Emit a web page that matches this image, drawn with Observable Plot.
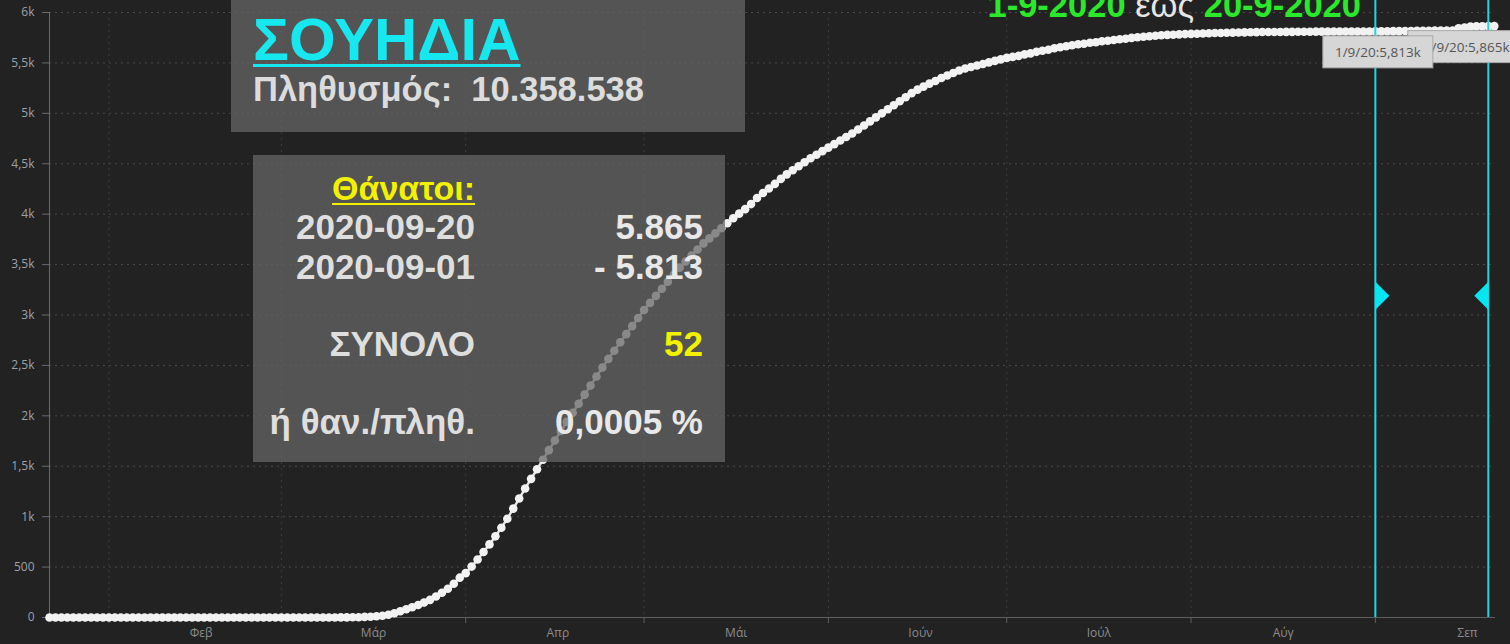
<!DOCTYPE html>
<html>
<head>
<meta charset="utf-8">
<script src="https://cdn.jsdelivr.net/npm/d3@7"></script>
<script src="https://cdn.jsdelivr.net/npm/@observablehq/plot@0.6"></script>
<style>
html,body{margin:0;padding:0;background:#222;overflow:hidden}
#chart{position:relative;width:1510px;height:644px}
</style>
</head>
<body>
<div id="chart"></div>
<script>
// ---------- data ----------
const startDate = "2020-01-22";
const endDomain = "2020-09-21T05:00";
// cumulative deaths, one value per day starting at startDate
const deaths = [
  0,0,0,0,0,0,0,0,0,0,
  0,0,0,0,0,0,0,0,0,0,
  0,0,0,0,0,0,0,0,0,0,
  0,0,0,0,0,0,0,0,0,0,
  0,0,0,0,0,0,0,0,0,
  1,1,2,3,6,8,12,18,28,42,62,82,102,124,148,175,208,245,285,335,395,
  440,505,575,650,725,805,890,980,1080,1180,
  1280,1375,1470,1565,1660,1755,1850,1940,2030,2120,
  2210,2300,2390,2480,2565,2645,2730,2810,2890,2970,
  3050,
  3120,3190,3260,3330,3400,3470,3530,3590,3650,3710,3760,3810,3860,3910,
  3960,4005,4050,4100,4160,4210,4255,4300,4350,4395,
  4435,4475,4515,4555,4590,4625,4660,4695,4730,4765,4800,4840,
  4880,4920,4960,5000,5040,5080,5120,5160,5200,
  5235,5265,5295,5320,5350,5375,5400,5425,
  5445,5460,5475,5490,5505,5520,5535,5550,5560,5570,5585,5595,5610,5620,5630,5645,5655,
  5665,5675,5685,5690,5700,5705,5715,5720,5728,5735,5740,5748,5755,5760,5765,5770,5775,
  5778,5780,5783,5786,5788,5790,5792,5794,5796,5797,5799,5800,5801,5803,5804,5805,
  5806,5806,5807,5807,5808,5808,5809,5809,5809,5810,5810,5810,5811,5811,5811,5812,5812,5812,5812,
  5813,5813,5814,5815,5815,5816,5817,5818,5818,5819,5820,5820,5821,5822,5843,5851,5860,5862,5864,5865,5865
];
const yTicks = [0,500,1000,1500,2000,2500,3000,3500,4000,4500,5000,5500,6000];
const yTickLabels = ["0","500","1k","1,5k","2k","2,5k","3k","3,5k","4k","4,5k","5k","5,5k","6k"];
const monthStarts = ["2020-02-01","2020-03-01","2020-04-01","2020-05-01","2020-06-01","2020-07-01","2020-08-01","2020-09-01"];
const monthLabelDates = ["2020-02-16T12:00","2020-03-16T12:00","2020-04-16T12:00","2020-05-16T12:00","2020-06-16T12:00","2020-07-16T12:00","2020-08-16T12:00","2020-09-16T12:00"];
const monthLabels = ["Φεβ","Μάρ","Απρ","Μάι","Ιούν","Ιούλ","Αύγ","Σεπ"];
const rangeDates = ["2020-09-01","2020-09-20"];
const rangeValues = [5813, 5865];
const rangeTips = ["1/9/20:5,813k","20/9/20:5,865k"];
const markerLevel = 3190;

const country = "ΣΟΥΗΔΙΑ";
const populationLabel = "Πληθυσμός:\u00a0 10.358.538";
const deathsTitle = "Θάνατοι:";
const rowLabels = ["2020-09-20","2020-09-01","ΣΥΝΟΛΟ","ή θαν./πληθ."];
const rowValues = ["5.865","- 5.813","52","0,0005 %"];
const periodFrom = "1-9-2020", periodWord = " έως ", periodTo = "20-9-2020";

// ---------- build ----------
const parse = s => new Date(s + (s.length === 10 ? "T00:00Z" : "Z"));
const t0 = parse(startDate);
const data = deaths.map((v, i) => ({date: d3.utcDay.offset(t0, i), v}));

const triRight = {draw(ctx){ ctx.moveTo(0,-14); ctx.lineTo(14,0); ctx.lineTo(0,14); ctx.closePath(); }};
const triLeft  = {draw(ctx){ ctx.moveTo(0,-14); ctx.lineTo(-14,0); ctx.lineTo(0,14); ctx.closePath(); }};

const chart = Plot.plot({
  width: 1510, height: 644,
  marginLeft: 49, marginRight: 15, marginTop: 12, marginBottom: 27,
  style: {background: "#222222", color: "#9a9fa5", fontFamily: "'Open Sans', sans-serif", fontSize: "12px"},
  x: {type: "utc", domain: [t0, parse(endDomain)]},
  y: {domain: [0, 6000]},
  marks: [
    Plot.ruleY(yTicks.slice(1), {stroke: "#4a4a4a", strokeDasharray: "2,4"}),
    Plot.ruleX(monthStarts.map(parse), {stroke: "#3d3d3d", strokeDasharray: "2,4"}),
    Plot.axisY({ticks: yTicks, tickFormat: d => yTickLabels[yTicks.indexOf(d)], tickSize: 7, tickPadding: 8, stroke: "#6a6a6a", fill: "#9aa1a8", label: null}),
    Plot.axisX({ticks: monthStarts.map(parse), tickFormat: () => "", tickSize: 6, stroke: "#5f5f5f", label: null}),
    Plot.axisX({ticks: monthLabelDates.map(parse), tickFormat: (d, i) => monthLabels[i], tickSize: 0, tickPadding: 11, fill: "#8c8c8c", label: null}),
    Plot.ruleY([0], {stroke: "#5f5f5f"}),
    Plot.ruleX([t0], {stroke: "#6a6a6a"}),
    Plot.line(data, {x: "date", y: "v", stroke: "#e6e6e6", strokeWidth: 2.5}),
    Plot.dot(data, {x: "date", y: "v", r: 4.3, fill: "#f2f2f2"}),
    Plot.ruleX(rangeDates.map(parse), {stroke: "#22d4de", strokeWidth: 2, insetTop: -12}),
    Plot.dot([rangeDates[0]], {x: d => parse(d), y: () => markerLevel, symbol: triRight, fill: "#05e6f0"}),
    Plot.dot([rangeDates[1]], {x: d => parse(d), y: () => markerLevel, symbol: triLeft, fill: "#05e6f0"})
  ]
});
document.getElementById("chart").appendChild(chart);

// ---------- overlays ----------
const xs = chart.scale("x"), ys = chart.scale("y");
const svg = d3.select(chart);
const g = svg.append("g");
const FONT = "'Liberation Sans', Arial, sans-serif";

function text(x, y, s, opt = {}) {
  return g.append("text").attr("x", x).attr("y", y)
    .attr("font-family", opt.font || FONT)
    .attr("font-size", opt.size || 34)
    .attr("font-weight", opt.weight || "bold")
    .attr("fill", opt.fill || "#dedede")
    .attr("text-anchor", opt.anchor || "start")
    .style("white-space", "pre")
    .text(s);
}

// tooltips (second drawn first, first overlaps it)
const tipW = 110, tipH = 32;
function tip(cx, top, s) {
  g.append("rect").attr("x", cx - tipW/2).attr("y", top).attr("width", tipW).attr("height", tipH)
    .attr("fill", "#d6d6d6").attr("stroke", "#a8a8a8").attr("stroke-width", 1);
  text(cx, top + 21, s, {font: "'Open Sans', sans-serif", size: 13.5, weight: "normal", fill: "#555555", anchor: "middle"});
}
tip(xs.apply(parse(rangeDates[1])) - 25, ys.apply(rangeValues[1]) + 5, rangeTips[1]);
tip(xs.apply(parse(rangeDates[0])) + 3, ys.apply(rangeValues[0]) + 5, rangeTips[0]);

// panels
function panel(x, y, w, h) {
  g.append("rect").attr("x", x).attr("y", y).attr("width", w).attr("height", h)
    .attr("fill", "rgb(102,102,102)").attr("fill-opacity", 0.75);
}
panel(231, -10, 514, 142);
panel(253, 155, 472, 307);

const t1 = text(253, 60, country, {size: 60, fill: "#17e8f0"});
const w1 = t1.node().getComputedTextLength();
g.append("rect").attr("x", 253).attr("y", 64).attr("width", w1).attr("height", 3).attr("fill", "#17e8f0");
text(253, 101, populationLabel, {size: 34.5, fill: "#dcdcdc"});

const t2 = text(475, 200, deathsTitle, {size: 34, fill: "#f2f200", anchor: "end"});
const w2 = t2.node().getComputedTextLength();
g.append("rect").attr("x", 475 - w2).attr("y", 203).attr("width", w2).attr("height", 2).attr("fill", "#f2f200");

const rowY = [239, 279, 356, 434];
rowLabels.forEach((s, i) => text(475, rowY[i], s, {size: 35, anchor: "end"}));
rowValues.forEach((s, i) => text(703, rowY[i], s, {size: 35, anchor: "end", fill: i === 2 ? "#f2f200" : "#e8e8e8"}));

// period title
const pt = g.append("text").attr("x", 1361).attr("y", 17).attr("text-anchor", "end")
  .attr("font-family", FONT).attr("font-size", 34.5).attr("font-weight", "bold").style("white-space", "pre");
pt.append("tspan").attr("fill", "#2ae82a").text(periodFrom);
pt.append("tspan").attr("fill", "#e6e6e6").attr("font-weight", "normal").text(periodWord);
pt.append("tspan").attr("fill", "#2ae82a").text(periodTo);
</script>
</body>
</html>
